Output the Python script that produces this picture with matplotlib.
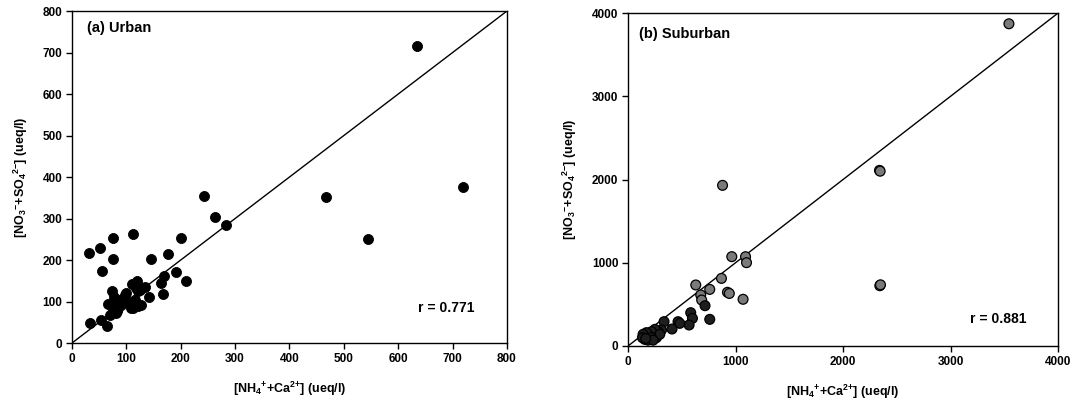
import matplotlib
matplotlib.use("Agg")
import matplotlib.pyplot as plt

plt.rcParams["font.family"] = ["Liberation Sans", "DejaVu Sans"]
plt.rcParams["font.weight"] = "bold"
plt.rcParams["mathtext.default"] = "regular"

# ---------------------------------------------------------------------------
# Data (ueq/l)
# ---------------------------------------------------------------------------
urban_x = [635, 720, 467, 544, 242, 263, 284, 201, 177, 145, 112, 76, 75,
           52, 31, 55, 191, 210, 169, 164, 167, 141, 134, 120, 110, 122,
           34, 53, 64, 66, 69, 74, 77, 80, 82, 85, 88, 91, 97, 103, 109,
           115, 122, 125, 117, 99, 112, 126, 80, 76]
urban_y = [715, 375, 352, 250, 354, 303, 284, 253, 214, 202, 262, 252, 202,
           230, 218, 174, 170, 150, 162, 145, 118, 110, 135, 150, 141, 126,
           49, 55, 42, 93, 68, 125, 112, 96, 76, 84, 104, 92, 116, 100, 84,
           104, 90, 128, 133, 120, 85, 92, 72, 78]

sub_x = [3543, 2339, 2345, 2342, 2348, 879, 965, 1093, 1102, 869, 925, 942,
         1070, 630, 760, 676, 685, 716, 760, 583, 599, 568, 465, 481, 409,
         335, 311, 280, 250, 234, 219, 196, 171, 155, 140, 134, 186, 264,
         295, 217, 233, 164]
sub_y = [3871, 2110, 2100, 724, 735, 1930, 1073, 1073, 1001, 812, 645, 631,
         561, 733, 680, 613, 552, 484, 320, 400, 332, 252, 292, 272, 204,
         292, 192, 172, 200, 132, 172, 120, 160, 80, 140, 100, 70, 100,
         140, 100, 70, 90]

URBAN_R = "r = 0.771"
SUB_R = "r = 0.881"

XLABEL = r"[NH$_4$$^{{+}}$+Ca$^{2{+}}$] (ueq/l)"
YLABEL = r"[NO$_3$$^{{-}}$+SO$_4$$^{2{-}}$] (ueq/l)"


def style_axis(ax, lim, step):
    ax.set_xlim(0, lim)
    ax.set_ylim(0, lim)
    ticks = list(range(0, lim + 1, step))
    ax.set_xticks(ticks)
    ax.set_yticks(ticks)
    ax.tick_params(direction="out", length=4, width=1, labelsize=8.5,
                   top=False, right=False, pad=3)
    for s in ax.spines.values():
        s.set_linewidth(1.0)
    ax.plot([0, lim], [0, lim], color="black", lw=1.0, zorder=1)
    ax.set_xlabel(XLABEL, fontsize=9, fontweight="bold", labelpad=11)
    ax.set_ylabel(YLABEL, fontsize=9, fontweight="bold", labelpad=9)


fig = plt.figure(figsize=(10.78, 4.08), dpi=100)
ax_u = fig.add_axes([0.0668, 0.1593, 0.4035, 0.8137])
ax_s = fig.add_axes([0.5826, 0.152, 0.3989, 0.816])

# Left: urban
style_axis(ax_u, 800, 100)
ax_u.scatter(urban_x, urban_y, s=52, color="black", edgecolor="black",
             linewidth=0.6, zorder=3, clip_on=False)
ax_u.text(27, 758, "(a) Urban", fontsize=10.5, fontweight="bold",
          va="center", ha="left")
ax_u.text(689, 84, URBAN_R, fontsize=10, fontweight="bold",
          va="center", ha="center")

# Right: suburban
style_axis(ax_s, 4000, 1000)
face = ["#7a7a7a" if y > 540 else "#1e1e1e" for y in sub_y]
ax_s.scatter(sub_x, sub_y, s=50, c=face, edgecolor="black",
             linewidth=0.9, zorder=3, clip_on=False)
ax_s.text(102, 3747, "(b) Suburban", fontsize=10.5, fontweight="bold",
          va="center", ha="left")
ax_s.text(3441, 322, SUB_R, fontsize=10, fontweight="bold",
          va="center", ha="center")

fig.savefig("out.png", dpi=100)
